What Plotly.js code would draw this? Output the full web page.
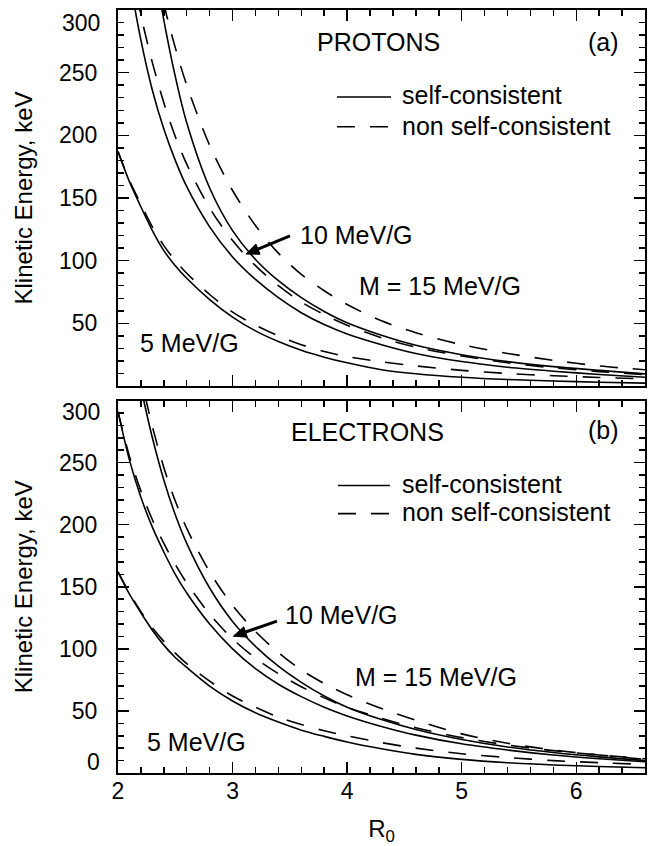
<!DOCTYPE html>
<html>
<head>
<meta charset="utf-8">
<script src="https://cdn.plot.ly/plotly-3.0.1.min.js"></script>
<style>html,body{margin:0;padding:0;background:#fff;}#chart{width:653px;height:846px;}</style>
</head>
<body>
<div id="chart"></div>
<script>
// ---- data ----
const R0 = [2.0, 2.1, 2.2, 2.3, 2.4, 2.5, 2.6, 2.8, 3.0, 3.2, 3.4, 3.6, 3.8, 4.0, 4.3, 4.6, 5.0, 5.4, 5.8, 6.2, 6.6];

// (a) PROTONS, kinetic energy in keV
const protonM5Self    = [187, 163, 143, 124, 108, 96, 86, 69, 55, 44, 35.5, 28.5, 23, 18.5, 13, 9.8, 7, 5.2, 4, 3, 2.3];
const protonM5NonSelf = [187, 164, 145, 127, 112, 100, 90, 73, 59, 48.5, 40, 33, 27.5, 23.5, 19.3, 16, 12.5, 10, 8.2, 6.8, 5.7];
const protonM10Self    = [385, 326, 276, 236, 205, 180, 159, 127, 103, 85, 70.5, 58.5, 49, 41.5, 33, 26, 19.5, 15, 11.8, 9.2, 7];
const protonM10NonSelf = [390, 343, 296, 258, 226, 199, 177, 142, 116, 96, 80, 67, 57, 48.5, 38.5, 31, 24, 18.5, 14.5, 11.5, 9];
const protonM15Self    = [null, null, 405, 345, 292, 247, 210, 158, 124, 101, 84, 70.5, 59.5, 50.5, 40.5, 32.5, 25, 19.5, 15.5, 12.5, 9.7];
const protonM15NonSelf = [null, null, 410, 352, 305, 270, 240, 192, 156, 128, 106, 89, 76, 65, 52, 42.5, 33, 26, 20.5, 16, 13];

// (b) ELECTRONS, kinetic energy in keV
const electronM5Self    = [162, 144, 129, 115, 103, 93, 85, 70, 58, 48.5, 41, 34.5, 29.5, 25, 19.5, 15, 11, 8.3, 6.5, 5.2, 4.2];
const electronM5NonSelf = [162, 145, 130, 117, 106, 96.5, 88, 74, 62, 53, 45, 39, 34, 30, 24.5, 20, 15.5, 12.5, 10, 8.3, 7];
const electronM10Self    = [291, 252, 222, 198, 178, 160, 145, 120, 100, 84, 71.5, 61.5, 53, 46, 37.5, 30.5, 23.5, 18.5, 14.5, 11.5, 9];
const electronM10NonSelf = [291, 255, 227, 204, 185, 168, 153, 128, 108, 92.5, 80, 69.5, 60.5, 53, 44, 36.5, 28.5, 22.5, 18, 14.5, 11.5];
const electronM15Self    = [null, 350, 310, 270, 236, 208, 185, 149, 122, 102, 86, 73, 62, 53, 43, 35, 27, 21, 16.5, 13, 10];
const electronM15NonSelf = [null, 355, 318, 279, 246, 219, 197, 162, 135, 114, 97, 83, 72, 63, 52, 42.5, 31.5, 24, 18.5, 14.5, 11];

const yTickVals = [50, 100, 150, 200, 250];
const xTickVals = [2, 3, 4, 5, 6];

// ---- styling ----
const FONT = 'Liberation Sans, Arial, Helvetica, sans-serif';
const INK = '#000';
const DASH = '18px,15px';

function curve(y, dashed, xa, ya, name) {
  return {
    x: R0, y: y, xaxis: xa, yaxis: ya, name: name,
    type: 'scatter', mode: 'lines',
    line: {color: INK, width: 1.6, dash: dashed ? DASH : 'solid', shape: 'spline', smoothing: 0.9},
    connectgaps: false, hoverinfo: 'skip'
  };
}

const traces = [
  curve(protonM5Self, false, 'x', 'y', 'p5 self'),
  curve(protonM5NonSelf, true, 'x', 'y', 'p5 non'),
  curve(protonM10Self, false, 'x', 'y', 'p10 self'),
  curve(protonM10NonSelf, true, 'x', 'y', 'p10 non'),
  curve(protonM15Self, false, 'x', 'y', 'p15 self'),
  curve(protonM15NonSelf, true, 'x', 'y', 'p15 non'),
  curve(electronM5Self, false, 'x2', 'y2', 'e5 self'),
  curve(electronM5NonSelf, true, 'x2', 'y2', 'e5 non'),
  curve(electronM10Self, false, 'x2', 'y2', 'e10 self'),
  curve(electronM10NonSelf, true, 'x2', 'y2', 'e10 non'),
  curve(electronM15Self, false, 'x2', 'y2', 'e15 self'),
  curve(electronM15NonSelf, true, 'x2', 'y2', 'e15 non')
];

function xAxis(anchor, labels) {
  return {
    anchor: anchor, domain: [0, 1], range: [2, 6.6],
    tickmode: 'array', tickvals: xTickVals, showticklabels: labels,
    ticks: 'inside', ticklen: 11, tickwidth: 1.5, tickcolor: INK,
    minor: {tickmode: 'linear', tick0: 2, dtick: 0.2, ticks: 'inside', ticklen: 6, tickwidth: 1.5, tickcolor: INK, showgrid: false},
    showline: true, linewidth: 2, linecolor: INK, mirror: 'allticks',
    showgrid: false, zeroline: false, ticklabelstandoff: -4,
    tickfont: {family: FONT, size: 23, color: INK}
  };
}
function yAxis(anchor, domain) {
  return {
    anchor: anchor, domain: domain, range: [0, 300],
    tickmode: 'array', tickvals: yTickVals,
    ticks: 'inside', ticklen: 11, tickwidth: 1.5, tickcolor: INK,
    minor: {tickmode: 'linear', tick0: 0, dtick: 10, ticks: 'inside', ticklen: 6, tickwidth: 1.5, tickcolor: INK, showgrid: false},
    showline: true, linewidth: 2, linecolor: INK, mirror: 'allticks',
    showgrid: false, zeroline: false, ticklabelstandoff: 14,
    tickfont: {family: FONT, size: 23, color: INK},
    title: {text: 'Klinetic Energy, keV', font: {family: FONT, size: 24, color: INK}, standoff: 20}
  };
}

const ANN = {family: FONT, size: 25, color: INK};
function txt(xref, yref, x, y, text, anchor) {
  return {xref: xref, yref: yref, x: x, y: y, text: text, showarrow: false,
          xanchor: anchor || 'left', yanchor: 'middle', font: ANN};
}
function edgeLabel(yref, y, text) {
  return {xref: 'paper', yref: yref, x: -0.031, y: y, text: text, showarrow: false,
          xanchor: 'right', yanchor: 'middle', font: {family: FONT, size: 23, color: INK}};
}

const annotations = [
  // panel (a)
  txt('x', 'y', 4.278, 274.5, 'PROTONS', 'center'),
  txt('x', 'y', 6.242, 274.5, '(a)', 'center'),
  txt('x', 'y', 4.461, 232.2, 'self-consistent'),
  txt('x', 'y', 4.461, 207.5, 'non self-consistent'),
  txt('x', 'y', 3.568, 120.5, '10 MeV/G'),
  txt('x', 'y', 4.086, 79.8, 'M = 15 MeV/G'),
  txt('x', 'y', 2.175, 34.3, '5 MeV/G'),
  edgeLabel('y', 289.9, '300'),
  // panel (b)
  txt('x2', 'y2', 4.182, 274.5, 'ELECTRONS', 'center'),
  txt('x2', 'y2', 6.242, 275.9, '(b)', 'center'),
  txt('x2', 'y2', 4.461, 233.0, 'self-consistent'),
  txt('x2', 'y2', 4.461, 210.2, 'non self-consistent'),
  txt('x2', 'y2', 3.443, 127.1, '10 MeV/G'),
  txt('x2', 'y2', 4.051, 77.5, 'M = 15 MeV/G'),
  txt('x2', 'y2', 2.236, 25.2, '5 MeV/G'),
  edgeLabel('y2', 290.6, '300'),
  edgeLabel('y2', 9.1, '0')
];

const shapes = [
  // legend samples
  {type: 'line', xref: 'x', yref: 'y', x0: 3.911, x1: 4.383, y0: 230.6, y1: 230.6, line: {color: INK, width: 1.6}},
  {type: 'line', xref: 'x', yref: 'y', x0: 3.911, x1: 4.383, y0: 206.9, y1: 206.9, line: {color: INK, width: 1.6, dash: DASH}},
  {type: 'line', xref: 'x2', yref: 'y2', x0: 3.92, x1: 4.374, y0: 231.6, y1: 231.6, line: {color: INK, width: 1.6}},
  {type: 'line', xref: 'x2', yref: 'y2', x0: 3.92, x1: 4.374, y0: 208.9, y1: 208.9, line: {color: INK, width: 1.6, dash: DASH}},
  // "10 MeV/G" pointer arrows: shaft + filled head
  {type: 'line', xref: 'x', yref: 'y', x0: 3.501, y0: 119.7, x1: 3.222, y1: 109.2, line: {color: INK, width: 3}},
  {type: 'path', xref: 'x', yref: 'y', path: 'M 3.117,105.3 L 3.2403,105.16 L 3.2036,113.3 Z',
   fillcolor: INK, line: {color: INK, width: 1}},
  {type: 'line', xref: 'x2', yref: 'y2', x0: 3.3878, y0: 122.25, x1: 3.1137, y1: 113.56, line: {color: INK, width: 3}},
  {type: 'path', xref: 'x2', yref: 'y2', path: 'M 3.0063,110.19 L 3.1294,109.39 L 3.098,117.75 Z',
   fillcolor: INK, line: {color: INK, width: 1}}
];

const xa2 = xAxis('y2', true);
xa2.title = {text: 'R<sub>0</sub>', font: {family: FONT, size: 24, color: INK}};

const layout = {
  width: 653, height: 846,
  margin: {l: 118, r: 8, t: 10, b: 73},
  paper_bgcolor: '#fff', plot_bgcolor: '#fff',
  showlegend: false,
  font: {family: FONT, size: 23, color: INK},
  xaxis: xAxis('y', false),
  yaxis: yAxis('x', [0.5072, 1]),
  xaxis2: xa2,
  yaxis2: yAxis('x2', [0, 0.4882]),
  annotations: annotations,
  shapes: shapes
};

Plotly.newPlot('chart', traces, layout, {displayModeBar: false, staticPlot: true}).then(function (gd) {
  // drop empty placeholder text nodes (unused title slots)
  gd.querySelectorAll('text').forEach(function (t) {
    if (!t.textContent || !t.textContent.trim()) t.remove();
  });
});
</script>
</body>
</html>
